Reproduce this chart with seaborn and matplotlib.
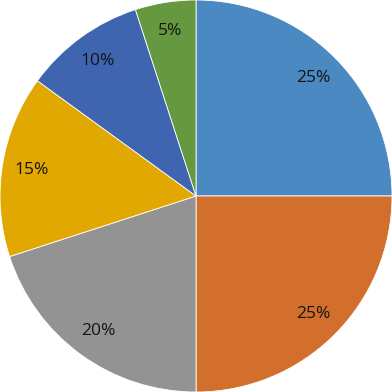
import matplotlib
matplotlib.use('Agg')
import matplotlib.pyplot as plt
import seaborn as sns

# slice shares, clockwise from 12 o'clock
shares = [25, 25, 20, 15, 10, 5]
colors = ['#4A89C1', '#D36F2C', '#939393', '#E0A800', '#3F65B0', '#66993F']

sns.set_style('white')
plt.rcParams['font.family'] = ['Open Sans', 'DejaVu Sans']

fig = plt.figure(figsize=(3.92, 3.92), dpi=100)
ax = fig.add_axes([0, 0, 1, 1])
ax.pie(shares, colors=sns.color_palette(colors), startangle=90, counterclock=False,
       autopct='%d%%', pctdistance=0.85, radius=1,
       wedgeprops={'edgecolor': 'white', 'linewidth': 0.6},
       textprops={'fontsize': 12.5, 'color': '#141414'})
ax.set_xlim(-1.0, 1.0)
ax.set_ylim(-1.0, 1.0)
ax.set_aspect('equal')
ax.axis('off')

fig.savefig('out.png', dpi=100)
